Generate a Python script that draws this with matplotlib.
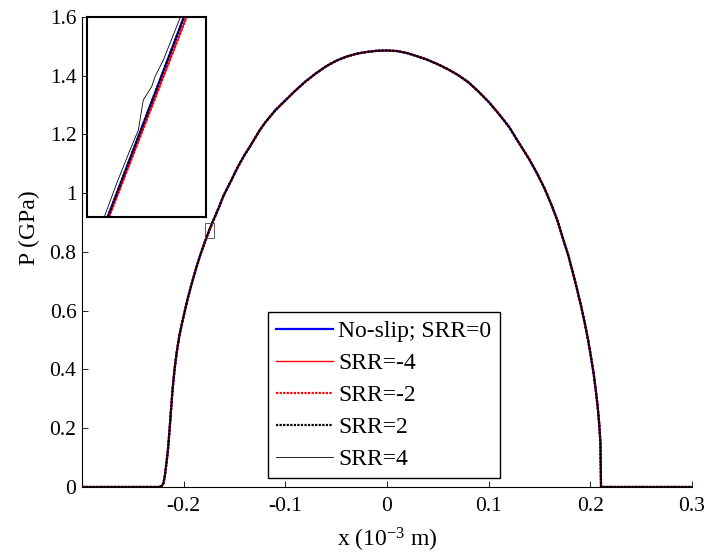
"""Pressure distribution for several slide-to-roll ratios, with zoomed inset."""

import matplotlib.pyplot as plt
from matplotlib.patches import Rectangle

plt.rcParams["font.family"] = ["Liberation Serif", "DejaVu Serif"]
plt.rcParams["mathtext.fontset"] = "custom"
plt.rcParams["mathtext.rm"] = "Liberation Serif"
plt.rcParams["mathtext.default"] = "rm"
plt.rcParams["axes.unicode_minus"] = False

# shared part of the curve, left of the zoom window (x in 1e-3 m, P in GPa)
left_x = [-0.300, -0.2245, -0.2215, -0.2200, -0.2187, -0.2170, -0.2155,
          -0.2140, -0.2125, -0.2110, -0.2090, -0.2068, -0.2040, -0.2005,
          -0.19635, -0.1919, -0.1873, -0.1830]
left_p = [0.000, 0.000, 0.004, 0.012, 0.034, 0.080, 0.125,
          0.190, 0.260, 0.330, 0.400, 0.460, 0.520, 0.575,
          0.637, 0.695, 0.750, 0.797]

# shared part of the curve, right of the zoom window
right_x = [-0.1678, -0.1650, -0.1613, -0.1570, -0.1530, -0.1490, -0.1448,
           -0.1400, -0.1350, -0.1300, -0.1251, -0.1200, -0.1100, -0.1000,
           -0.0900, -0.0800, -0.0700, -0.0600, -0.0500, -0.0400, -0.0300,
           -0.0200, -0.0100, 0.0000, 0.0100, 0.0200, 0.0300, 0.0400,
           0.0500, 0.0600, 0.0700, 0.0800, 0.0900, 0.1000, 0.1100,
           0.1200, 0.1300, 0.1400, 0.1475, 0.1550, 0.1625, 0.1680,
           0.1735, 0.1785, 0.1830, 0.1870, 0.1910, 0.1945, 0.1978,
           0.2006, 0.2032, 0.2053, 0.2072, 0.2087, 0.2099, 0.2105, 0.300]
right_p = [0.932, 0.955, 0.988, 1.018, 1.045, 1.074, 1.102,
           1.131, 1.158, 1.187, 1.215, 1.240, 1.282, 1.316,
           1.350, 1.381, 1.408, 1.432, 1.451, 1.465, 1.475,
           1.481, 1.485, 1.486, 1.484, 1.477, 1.466, 1.454,
           1.439, 1.422, 1.402, 1.378, 1.346, 1.311, 1.270,
           1.226, 1.170, 1.115, 1.068, 1.016, 0.954, 0.903,
           0.841, 0.786, 0.727, 0.672, 0.614, 0.558, 0.500,
           0.443, 0.387, 0.330, 0.273, 0.215, 0.149, 0.000, 0.000]

# points inside the zoom window, per series
win_x_srr0 = [-0.1777, -0.1718]
win_p_srr0 = [0.848, 0.900]
win_x_srr_m4 = [-0.1776, -0.1716]
win_p_srr_m4 = [0.848, 0.900]
win_x_srr_m2 = [-0.1776, -0.1716]
win_p_srr_m2 = [0.848, 0.900]
win_x_srr2 = [-0.1777, -0.1718]
win_p_srr2 = [0.848, 0.900]
win_x_srr4 = [-0.17791, -0.17700, -0.17598, -0.17533, -0.17495, -0.17430,
              -0.17404, -0.17340, -0.17288, -0.17211]
win_p_srr4 = [0.8485, 0.8568, 0.8654, 0.8706, 0.8784, 0.8819,
              0.8845, 0.8888, 0.8932, 0.8997]

labels = ["No-slip; SRR=0", "SRR=-4", "SRR=-2", "SRR=2", "SRR=4"]

# zoom window
zoom_x = (-0.1793, -0.1701)
zoom_p = (0.848, 0.900)

x_ticks = [-0.2, -0.1, 0, 0.1, 0.2, 0.3]
x_ticklabels = ["-0.2", "-0.1", "0", "0.1", "0.2", "0.3"]
y_ticks = [0, 0.2, 0.4, 0.6, 0.8, 1.0, 1.2, 1.4, 1.6]
y_ticklabels = ["0", "0.2", "0.4", "0.6", "0.8", "1", "1.2", "1.4", "1.6"]


def build(win_x, win_p):
    return left_x + win_x + right_x, left_p + win_p + right_p


series = [build(win_x_srr0, win_p_srr0), build(win_x_srr_m4, win_p_srr_m4),
          build(win_x_srr_m2, win_p_srr_m2), build(win_x_srr2, win_p_srr2),
          build(win_x_srr4, win_p_srr4)]

dot = (0, (1, 0.6))
styles = [
    dict(color="#0000ff", lw=1.6, ls="-"),
    dict(color="#ff0000", lw=1.0, ls="-"),
    dict(color="#ff0000", lw=1.6, ls=dot),
    dict(color="black", lw=1.6, ls=dot),
    dict(color="black", lw=0.6, ls="-"),
]

fig = plt.figure(figsize=(7.04, 5.59), dpi=100)
ax = fig.add_axes([0.1165, 0.1288, 0.8665, 0.8408])

for (xs, ps), lab, st in zip(series, labels, styles):
    ax.plot(xs, ps, label=lab, **st)

ax.set_xlim(-0.3, 0.3)
ax.set_ylim(0, 1.6)
ax.set_xticks(x_ticks)
ax.set_xticklabels(x_ticklabels)
ax.set_yticks(y_ticks)
ax.set_yticklabels(y_ticklabels)
ax.tick_params(direction="in", length=4, width=0.6, labelsize=15.5, colors="black")
ax.tick_params(axis="x", pad=7)
ax.tick_params(axis="y", pad=4)
for side in ("top", "right"):
    ax.spines[side].set_visible(False)
for side in ("left", "bottom"):
    ax.spines[side].set_linewidth(0.8)

ax.set_xlabel("x (10$^{-3}$ m)", fontsize=17)
ax.set_ylabel("P (GPa)", fontsize=17)
ax.xaxis.set_label_coords(0.5, -0.083)
ax.yaxis.set_label_coords(-0.069, 0.551)

ax.add_patch(Rectangle((zoom_x[0], zoom_p[0]), zoom_x[1] - zoom_x[0],
                       zoom_p[1] - zoom_p[0], fill=False, edgecolor="0.25",
                       lw=0.6, zorder=5))

leg = ax.legend(loc="lower left", bbox_to_anchor=(0.305, 0.019),
                borderaxespad=0, fontsize=17, fancybox=False, framealpha=1,
                edgecolor="black", handlelength=2.4, handletextpad=0.22,
                labelspacing=0.44, borderpad=0.35)
leg.get_frame().set_linewidth(1.0)

# inset
axin = fig.add_axes([0.1236, 0.6118, 0.169, 0.3578])
for (xs, ps), st in zip(series, styles):
    axin.plot(xs, ps, **st)
axin.set_xlim(*zoom_x)
axin.set_ylim(*zoom_p)
axin.set_xticks([])
axin.set_yticks([])
for sp in axin.spines.values():
    sp.set_linewidth(1.5)

fig.savefig("out.png", dpi=100)
